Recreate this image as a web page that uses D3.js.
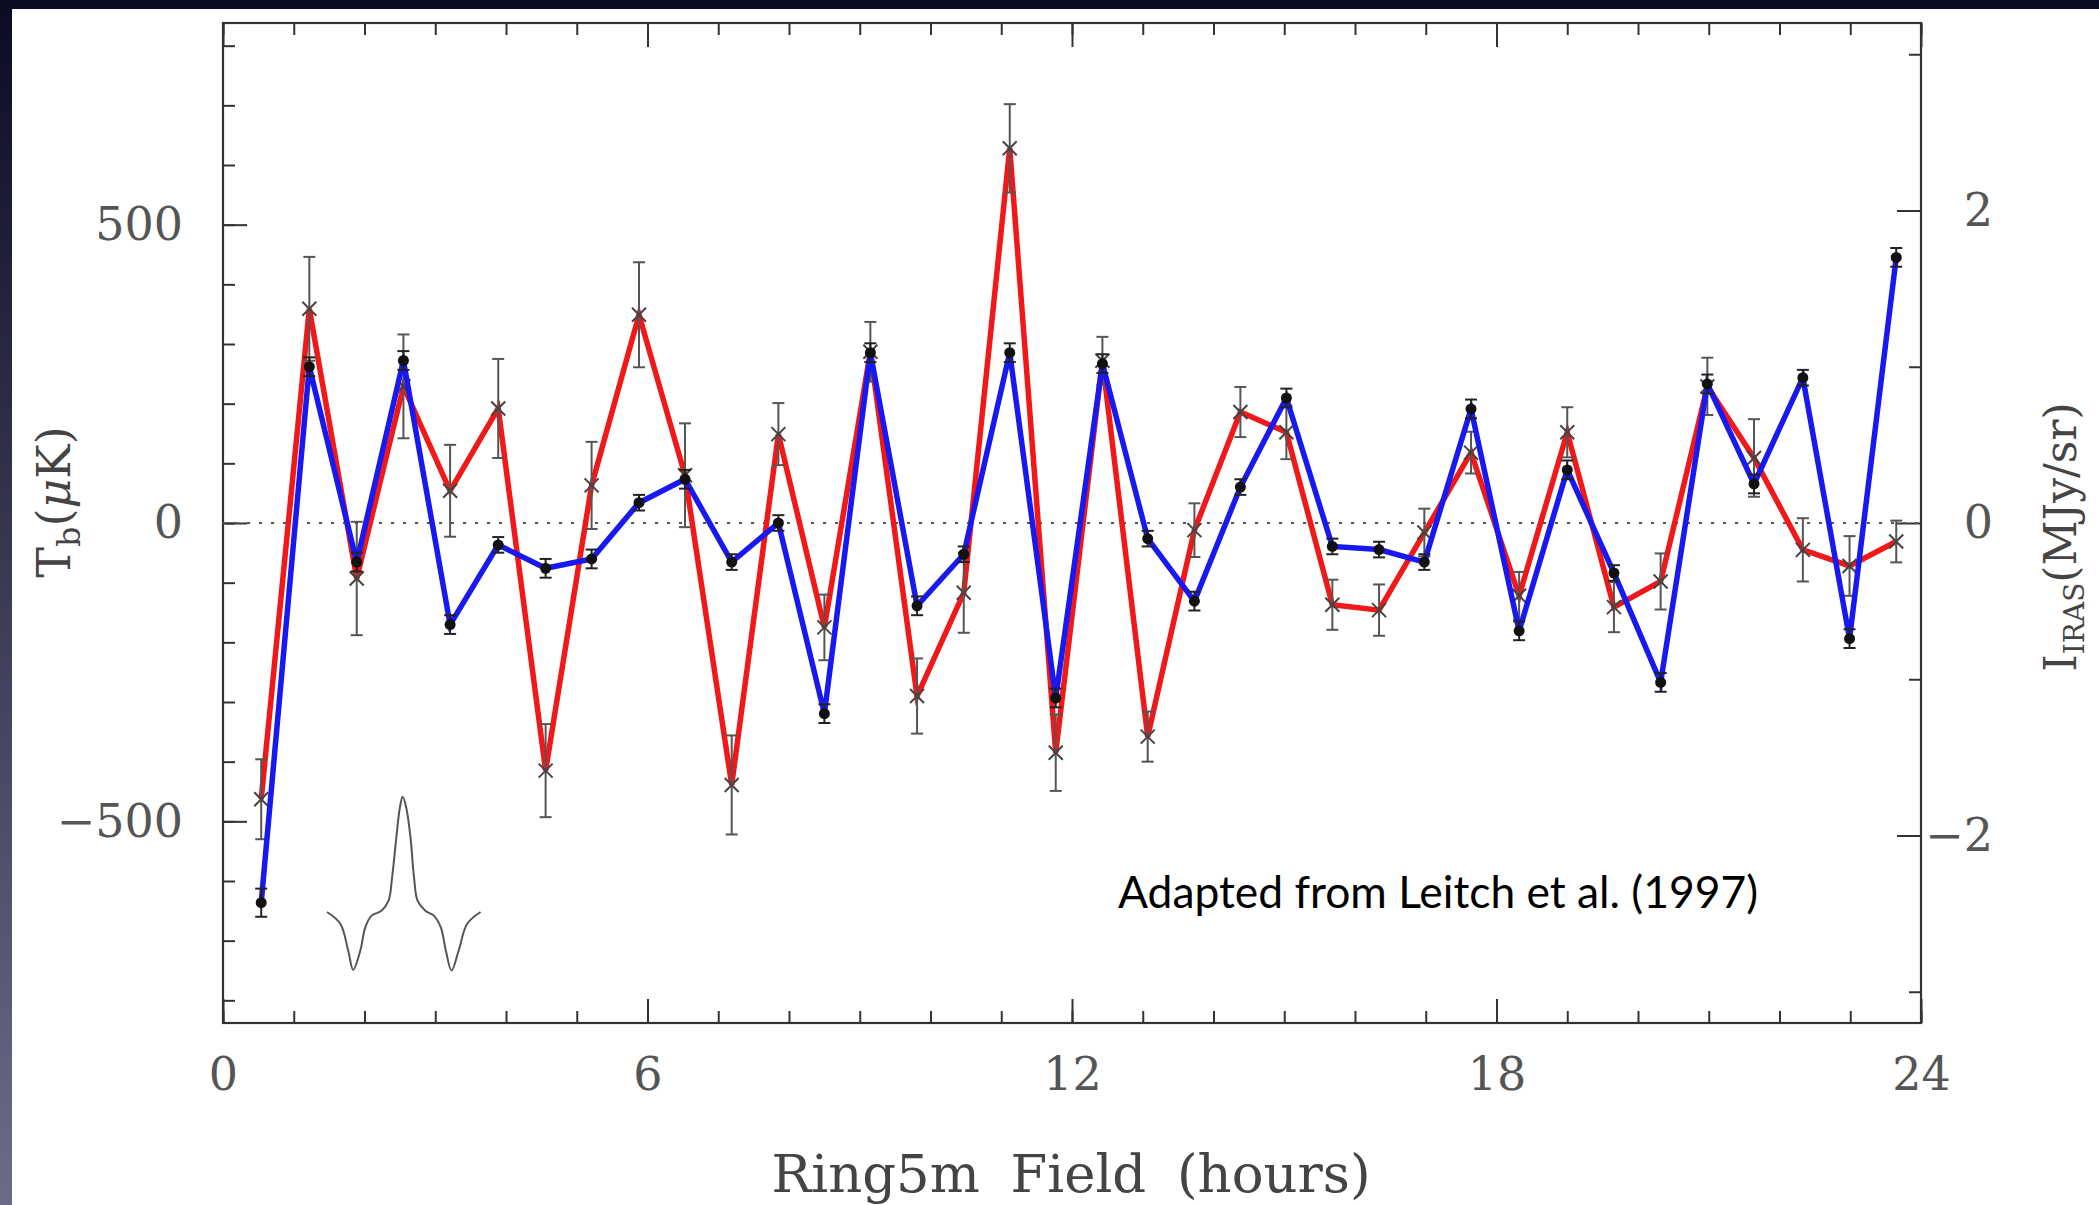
<!DOCTYPE html>
<html><head><meta charset="utf-8">
<script src="https://cdn.jsdelivr.net/npm/d3@7"></script>
<style>html,body{margin:0;padding:0;background:#fff;overflow:hidden}</style>
</head><body>
<svg id="c" width="2099" height="1205"></svg>
<script>
// ---- data ----
const hours = [0.54, 1.22, 1.89, 2.55, 3.21, 3.89, 4.56, 5.21, 5.88, 6.53, 7.19, 7.85,
  8.50, 9.15, 9.81, 10.47, 11.12, 11.77, 12.43, 13.07, 13.73, 14.38, 15.03, 15.68,
  16.34, 16.98, 17.64, 18.32, 19.00, 19.66, 20.32, 20.98, 21.64, 22.33, 22.99, 23.65];
const tbValues = [-463, 359, -93, 229, 54, 192, -415, 63, 349, 80, -439, 149,
  -175, 287, -290, -117, 628, -385, 272, -358, -12, 186, 152, -137,
  -146, -16, 118, -122, 152, -141, -98, 229, 109, -45, -72, -31];
const tbErrors = [67, 87, 95, 87, 77, 83, 78, 73, 88, 87, 83, 52,
  55, 50, 63, 67, 74, 64, 40, 42, 45, 42, 45, 42,
  43, 40, 35, 40, 42, 42, 47, 48, 65, 53, 50, 35];
const irasValues = [-2.43, 1.00, -0.25, 1.04, -0.65, -0.14, -0.29, -0.23, 0.13, 0.28, -0.25, 0.00,
  -1.22, 1.09, -0.53, -0.20, 1.09, -1.12, 1.02, -0.10, -0.50, 0.23, 0.80, -0.15,
  -0.17, -0.25, 0.73, -0.69, 0.34, -0.32, -1.02, 0.89, 0.25, 0.93, -0.74, 1.70];
const irasErrors = [0.09, 0.06, 0.06, 0.06, 0.06, 0.05, 0.06, 0.06, 0.05, 0.06, 0.05, 0.05,
  0.06, 0.06, 0.06, 0.05, 0.06, 0.06, 0.06, 0.05, 0.06, 0.05, 0.06, 0.05,
  0.05, 0.05, 0.06, 0.06, 0.06, 0.05, 0.06, 0.06, 0.06, 0.05, 0.06, 0.06];
const xMajorTicks = [0, 6, 12, 18, 24];
const xMinorTicks = d3.range(0, 25, 1);
const leftMajorTicks = [-500, 0, 500];
const leftMinorTicks = d3.range(-800, 801, 100);
const rightMajorTicks = [-2, 0, 2];
const rightMinorTicks = [-3, -1, 1, 3];
// beam pattern inset (hours, μK)
const beamHours = [1.47, 1.66, 1.77, 1.84, 1.94, 2.01, 2.10, 2.24, 2.34, 2.39, 2.45, 2.50, 2.54,
  2.59, 2.65, 2.70, 2.75, 2.86, 2.98, 3.08, 3.15, 3.23, 3.33, 3.45, 3.64];
const beamTb = [-652, -672, -717, -749, -717, -678, -658, -650, -633, -594, -527, -477, -459,
  -477, -527, -594, -633, -650, -658, -678, -717, -750, -717, -672, -652];

// ---- layout ----
const svg = d3.select("#c");
const defs = svg.append("defs");
const g1 = defs.append("linearGradient").attr("id","bg").attr("x1",0).attr("y1",0).attr("x2",0).attr("y2",1);
g1.append("stop").attr("offset","0%").attr("stop-color","#0b0b22");
g1.append("stop").attr("offset","100%").attr("stop-color","#6c6c88");
svg.append("rect").attr("width",2099).attr("height",1205).attr("fill","url(#bg)");
svg.append("rect").attr("x",12).attr("y",9).attr("width",2099-12).attr("height",1205-9).attr("fill","#fff");

const L = 223, R = 1921, T = 23, B = 1023;
const x = d3.scaleLinear().domain([0, 24]).range([L, R]);
const y = d3.scaleLinear().domain([-838, 838]).range([B, T]);
const y2 = d3.scaleLinear().domain([-3.2, 3.2]).range([B, T]);

const tickFont = "'DejaVu Serif', serif";
function styleAxis(sel){
  sel.select(".domain").remove();
  sel.selectAll(".tick line").attr("stroke","#333").attr("stroke-width",2);
  sel.selectAll(".tick text").attr("font-family",tickFont).attr("font-size",46).attr("fill","#555");
}
// bottom
svg.append("g").attr("transform",`translate(0,${B})`)
  .call(d3.axisBottom(x).tickValues(xMinorTicks).tickSize(-12).tickFormat("")).call(styleAxis);
svg.append("g").attr("transform",`translate(0,${B})`)
  .call(d3.axisBottom(x).tickValues(xMajorTicks).tickSize(-24).tickPadding(34).tickFormat(d3.format("d"))).call(styleAxis);
// top
svg.append("g").attr("transform",`translate(0,${T})`)
  .call(d3.axisTop(x).tickValues(xMinorTicks).tickSize(-12).tickFormat("")).call(styleAxis);
svg.append("g").attr("transform",`translate(0,${T})`)
  .call(d3.axisTop(x).tickValues(xMajorTicks).tickSize(-24).tickFormat("")).call(styleAxis);
// left
svg.append("g").attr("transform",`translate(${L},0)`)
  .call(d3.axisLeft(y).tickValues(leftMinorTicks).tickSize(-12).tickFormat("")).call(styleAxis);
svg.append("g").attr("transform",`translate(${L},0)`)
  .call(d3.axisLeft(y).tickValues(leftMajorTicks).tickSize(-24).tickPadding(40).tickFormat(d3.format("d"))).call(styleAxis);
// right
svg.append("g").attr("transform",`translate(${R},0)`)
  .call(d3.axisRight(y2).tickValues(rightMinorTicks).tickSize(-12).tickFormat("")).call(styleAxis);
const ra = svg.append("g").attr("transform",`translate(${R},0)`)
  .call(d3.axisRight(y2).tickValues(rightMajorTicks).tickSize(-24).tickFormat(d3.format("d"))).call(styleAxis);
ra.selectAll(".tick text").attr("text-anchor","end").attr("x",72);

// frame
svg.append("rect").attr("x",L).attr("y",T).attr("width",R-L).attr("height",B-T)
  .attr("fill","none").attr("stroke","#333").attr("stroke-width",2.2);

// zero line
svg.append("line").attr("x1",x(0)).attr("x2",x(24)).attr("y1",y(0)).attr("y2",y(0))
  .attr("stroke","#555").attr("stroke-width",2).attr("stroke-dasharray","3,9");

// beam inset
svg.append("path").datum(d3.zip(beamHours, beamTb))
  .attr("d", d3.line().x(d=>x(d[0])).y(d=>y(d[1])).curve(d3.curveCatmullRom))
  .attr("fill","none").attr("stroke","#555").attr("stroke-width",2);

const pts = hours.map((h,i)=>({h, tb:tbValues[i], te:tbErrors[i], ir:irasValues[i], ie:irasErrors[i]}));

// red line (T_b)
svg.append("path").datum(pts)
  .attr("d", d3.line().x(d=>x(d.h)).y(d=>y(d.tb)))
  .attr("fill","none").attr("stroke","#f01818").attr("stroke-width",5.5).attr("stroke-linejoin","miter");
// red error bars
const eb = svg.append("g").attr("stroke","#555").attr("stroke-width",2);
pts.forEach(d=>{
  const cx = x(d.h), y1 = y(d.tb - d.te), y2v = y(d.tb + d.te);
  eb.append("line").attr("x1",cx).attr("x2",cx).attr("y1",y1).attr("y2",y2v);
  eb.append("line").attr("x1",cx-6).attr("x2",cx+6).attr("y1",y1).attr("y2",y1);
  eb.append("line").attr("x1",cx-6).attr("x2",cx+6).attr("y1",y2v).attr("y2",y2v);
});
// red x markers
const xm = svg.append("g").attr("stroke","#444").attr("stroke-width",2);
pts.forEach(d=>{
  const cx = x(d.h), cy = y(d.tb), s = 7;
  xm.append("line").attr("x1",cx-s).attr("x2",cx+s).attr("y1",cy-s).attr("y2",cy+s);
  xm.append("line").attr("x1",cx-s).attr("x2",cx+s).attr("y1",cy+s).attr("y2",cy-s);
});

// blue line (IRAS)
svg.append("path").datum(pts)
  .attr("d", d3.line().x(d=>x(d.h)).y(d=>y2(d.ir)))
  .attr("fill","none").attr("stroke","#1818f0").attr("stroke-width",5.5);
const eb2 = svg.append("g").attr("stroke","#222").attr("stroke-width",2);
pts.forEach(d=>{
  const cx = x(d.h), y1 = y2(d.ir - d.ie), y2v = y2(d.ir + d.ie);
  eb2.append("line").attr("x1",cx).attr("x2",cx).attr("y1",y1).attr("y2",y2v);
  eb2.append("line").attr("x1",cx-6).attr("x2",cx+6).attr("y1",y1).attr("y2",y1);
  eb2.append("line").attr("x1",cx-6).attr("x2",cx+6).attr("y1",y2v).attr("y2",y2v);
});
svg.append("g").selectAll("circle").data(pts).join("circle")
  .attr("cx",d=>x(d.h)).attr("cy",d=>y2(d.ir)).attr("r",5.5).attr("fill","#111");

// axis titles
const xt = svg.append("text").attr("x",1071).attr("y",1192).attr("text-anchor","middle")
  .attr("font-family",tickFont).attr("font-size",48).attr("fill","#444").attr("word-spacing",14)
  .text("Ring5m Field (hours)");

const lt = svg.append("text").attr("transform","translate(70,502) rotate(-90)").attr("text-anchor","middle")
  .attr("font-family",tickFont).attr("font-size",46).attr("fill","#444");
lt.append("tspan").text("T");
lt.append("tspan").attr("font-size",32).attr("dy",10).text("b");
lt.append("tspan").attr("dy",-10).text("(");
lt.append("tspan").attr("font-style","italic").text("μ");
lt.append("tspan").text("K)");

const rt = svg.append("text").attr("transform","translate(2076,537) rotate(-90)").attr("text-anchor","middle")
  .attr("font-family",tickFont).attr("font-size",44).attr("fill","#444");
rt.append("tspan").text("I");
rt.append("tspan").attr("font-size",28).attr("dy",8).text("IRAS");
rt.append("tspan").attr("dy",-8).text("(MJy/sr)");

// annotation
const an = svg.append("text").attr("x",1118).attr("y",908)
  .attr("font-family","Lato, 'Open Sans', sans-serif").attr("font-size",42).attr("fill","#000")
  .text("Adapted from Leitch et al. (1997)");
const w = an.node().getComputedTextLength();
an.attr("font-size", 42*640/w);
const w2 = xt.node().getComputedTextLength();
xt.attr("font-size", 48*602/w2);
</script>
</body></html>
